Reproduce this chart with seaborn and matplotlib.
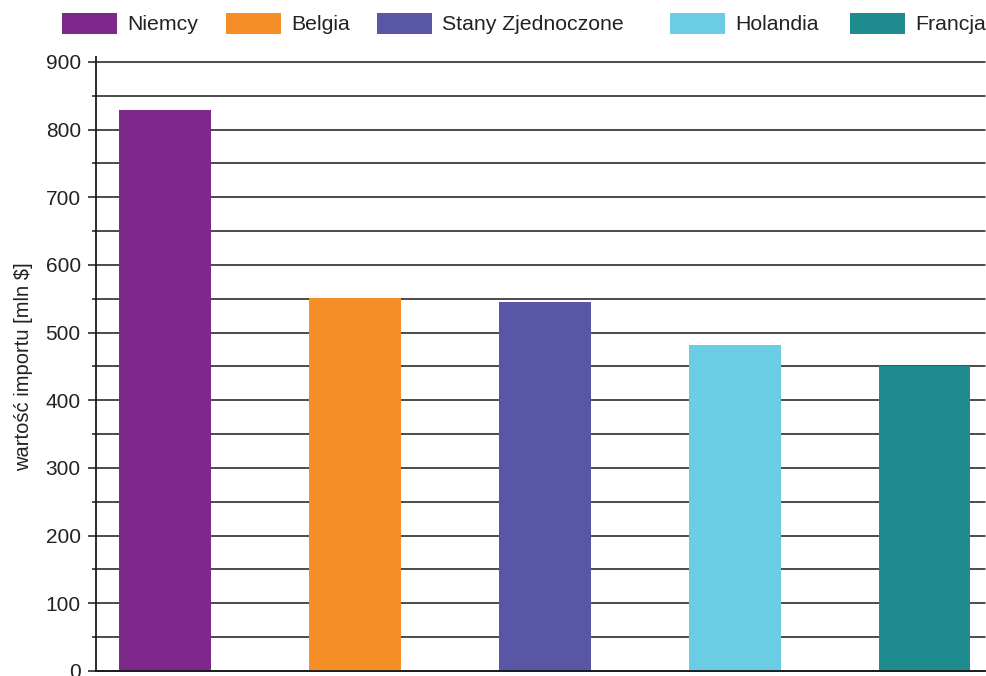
import matplotlib
matplotlib.use("Agg")
import matplotlib.pyplot as plt
from matplotlib.patches import Rectangle
from matplotlib.ticker import MultipleLocator
import seaborn as sns
import pandas as pd

countries = ["Niemcy", "Belgia", "Stany Zjednoczone", "Holandia", "Francja"]
import_values = [829, 551, 545, 482, 451]
bar_colors = ["#7E288B", "#F68E27", "#5856A5", "#6BCDE3", "#1E8C8E"]
y_label = "wartość importu [mln $]"

sns.set_theme(style="white")
plt.rcParams["font.family"] = ["Liberation Sans", "DejaVu Sans"]

df = pd.DataFrame({"kraj": countries, "wartosc": import_values})

fig = plt.figure(figsize=(9.87, 6.76), dpi=100)
ax = fig.add_axes([0.0973, 0.0074, 0.9006, 0.9009])

# horizontal grid every 50
for v in range(0, 901, 50):
    ax.axhline(v, color="#1a1a1a", lw=1.1, zorder=0, clip_on=False)

sns.barplot(data=df, x="kraj", y="wartosc", hue="kraj", palette=bar_colors,
            width=0.48, legend=False, ax=ax, saturation=1, zorder=2,
            edgecolor="none")

ax.set_ylim(0, 900)
ax.set_xlim(-0.363, 4.316)
ax.yaxis.set_major_locator(MultipleLocator(100))
ax.yaxis.set_minor_locator(MultipleLocator(50))
ax.tick_params(axis="y", which="major", length=6, width=1.1, color="#1a1a1a",
               labelsize=15, labelcolor="#222222", pad=5, left=True)
ax.tick_params(axis="y", which="minor", length=3, width=1.1, color="#1a1a1a", left=True)
ax.set_xticks([])
ax.set_xlabel("")
ax.set_ylabel(y_label, fontsize=14.5, color="#222222", labelpad=9)

for s in ["top", "right"]:
    ax.spines[s].set_visible(False)
ax.spines["left"].set_color("#1a1a1a")
ax.spines["left"].set_linewidth(1.3)
ax.spines["bottom"].set_color("#1a1a1a")
ax.spines["bottom"].set_linewidth(1.3)
ax.spines["left"].set_bounds(0, 908)
ax.spines["left"].set_clip_on(False)

# legend row across the top
W, H = 987, 676
patch_x = [62, 226, 377, 670, 850]
for px, name, col in zip(patch_x, countries, bar_colors):
    fig.patches.append(Rectangle((px / W, 1 - 34 / H), 55 / W, 21 / H,
                                 transform=fig.transFigure, facecolor=col,
                                 edgecolor="none"))
    fig.text((px + 65) / W, 1 - 25 / H, name, fontsize=15.3, color="#222222",
             va="center", ha="left")

fig.savefig("out.png", dpi=100)
